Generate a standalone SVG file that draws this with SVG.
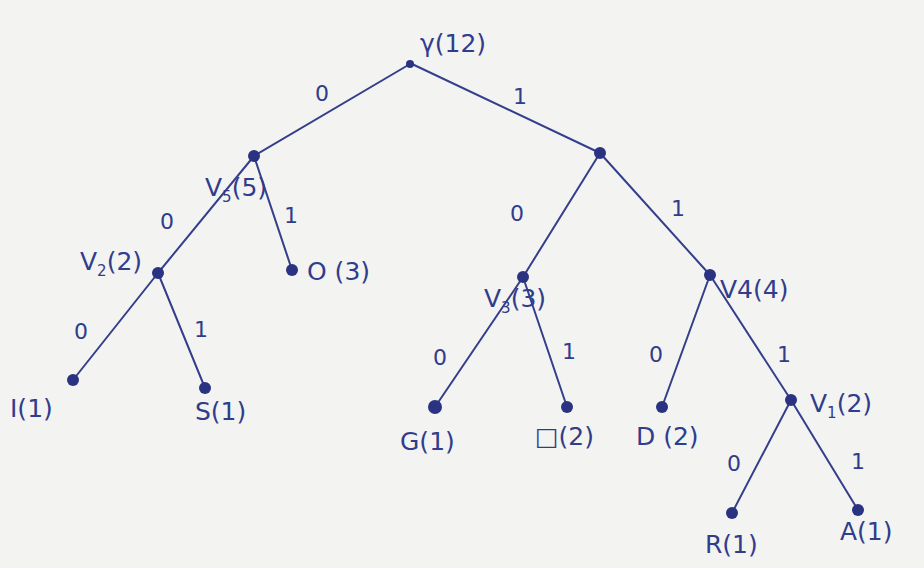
<svg xmlns="http://www.w3.org/2000/svg" width="924" height="568" viewBox="0 0 924 568">
<style>
.e{stroke:#343f8c;stroke-width:2;fill:none;stroke-linecap:round}
.d{fill:#2a3382}
.t{fill:#303c8c;font-family:"DejaVu Sans","Liberation Sans",sans-serif;font-size:25px}
.b{fill:#303c8c;font-family:"DejaVu Sans","Liberation Sans",sans-serif;font-size:22px}
.s{font-size:15px}
</style>
<rect width="924" height="568" fill="#f3f3f1"/>
<g id="edges">
<line class="e" x1="410" y1="64" x2="254" y2="156"/>
<line class="e" x1="412" y1="64" x2="600" y2="153"/>
<line class="e" x1="254" y1="156" x2="158" y2="273"/>
<line class="e" x1="254" y1="156" x2="292" y2="270"/>
<line class="e" x1="158" y1="273" x2="73" y2="380"/>
<line class="e" x1="158" y1="273" x2="205" y2="388"/>
<line class="e" x1="600" y1="153" x2="523" y2="277"/>
<line class="e" x1="600" y1="153" x2="710" y2="275"/>
<line class="e" x1="523" y1="277" x2="435" y2="407"/>
<line class="e" x1="523" y1="277" x2="567" y2="407"/>
<line class="e" x1="710" y1="275" x2="662" y2="407"/>
<line class="e" x1="710" y1="275" x2="791" y2="400"/>
<line class="e" x1="791" y1="400" x2="732" y2="513"/>
<line class="e" x1="791" y1="400" x2="858" y2="510"/>
</g>
<g id="edge-labels">
<text class="b" x="315" y="101">0</text>
<text class="b" x="513" y="104">1</text>
<text class="b" x="160" y="229">0</text>
<text class="b" x="284" y="223">1</text>
<text class="b" x="74" y="339">0</text>
<text class="b" x="194" y="337">1</text>
<text class="b" x="510" y="221">0</text>
<text class="b" x="671" y="216">1</text>
<text class="b" x="433" y="365">0</text>
<text class="b" x="562" y="359">1</text>
<text class="b" x="649" y="362">0</text>
<text class="b" x="777" y="362">1</text>
<text class="b" x="727" y="471">0</text>
<text class="b" x="851" y="469">1</text>
</g>
<g id="root"><circle class="d" cx="410" cy="64" r="4"/><text class="t" x="420" y="52">γ(12)</text></g>
<g id="v5"><circle class="d" cx="254" cy="156" r="6"/><text class="t" x="205" y="196">V<tspan class="s" dy="6">5</tspan><tspan dy="-6">(5)</tspan></text></g>
<g id="n7"><circle class="d" cx="600" cy="153" r="6"/></g>
<g id="v2"><circle class="d" cx="158" cy="273" r="6"/><text class="t" x="80" y="270">V<tspan class="s" dy="6">2</tspan><tspan dy="-6">(2)</tspan></text></g>
<g id="o3"><circle class="d" cx="292" cy="270" r="6"/><text class="t" x="307" y="280">O (3)</text></g>
<g id="v3"><circle class="d" cx="523" cy="277" r="6"/><text class="t" x="484" y="307">V<tspan class="s" dy="6">3</tspan><tspan dy="-6">(3)</tspan></text></g>
<g id="v4"><circle class="d" cx="710" cy="275" r="6"/><text class="t" x="720" y="298">V4(4)</text></g>
<g id="i1"><circle class="d" cx="73" cy="380" r="6"/><text class="t" x="10" y="417">I(1)</text></g>
<g id="s1"><circle class="d" cx="205" cy="388" r="6"/><text class="t" x="195" y="420">S(1)</text></g>
<g id="g1"><circle class="d" cx="435" cy="407" r="7"/><text class="t" x="400" y="450">G(1)</text></g>
<g id="sp2"><circle class="d" cx="567" cy="407" r="6"/><text class="t" x="535" y="445">□(2)</text></g>
<g id="d2"><circle class="d" cx="662" cy="407" r="6"/><text class="t" x="636" y="445">D (2)</text></g>
<g id="v1"><circle class="d" cx="791" cy="400" r="6"/><text class="t" x="810" y="412">V<tspan class="s" dy="6">1</tspan><tspan dy="-6">(2)</tspan></text></g>
<g id="r1"><circle class="d" cx="732" cy="513" r="6"/><text class="t" x="705" y="553">R(1)</text></g>
<g id="a1"><circle class="d" cx="858" cy="510" r="6"/><text class="t" x="840" y="540">A(1)</text></g>
</svg>
